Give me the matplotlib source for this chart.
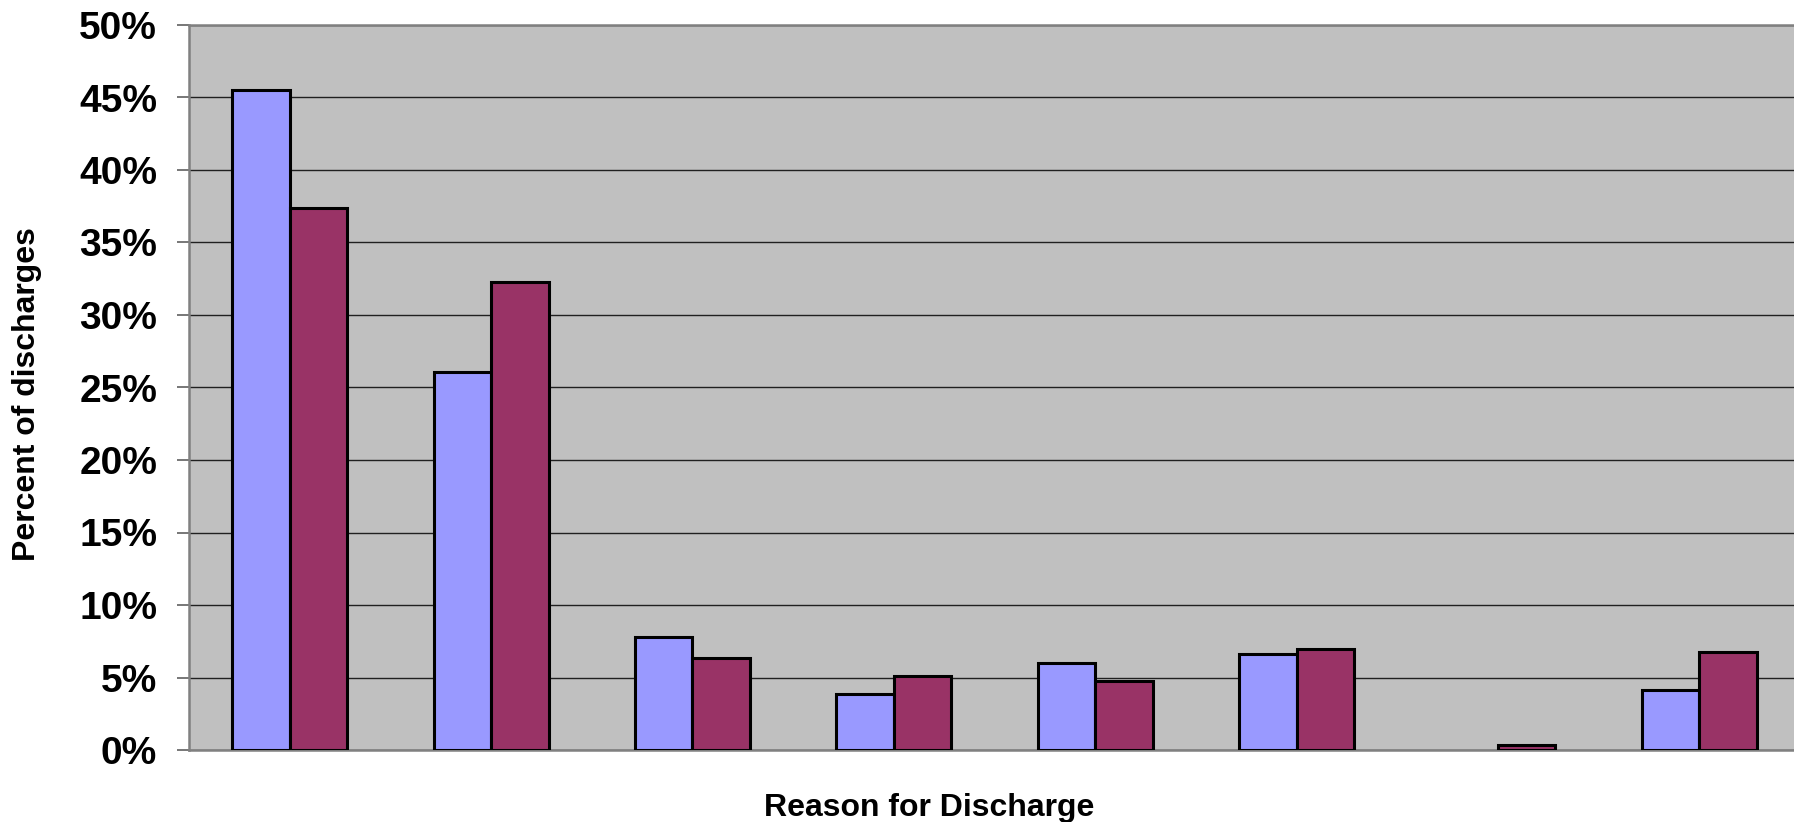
import numpy as np
import matplotlib
matplotlib.use('Agg')
import matplotlib.pyplot as plt
from matplotlib.ticker import PercentFormatter

# values, percent of discharges per reason (8 reasons, unlabeled)
series_a = [45.5, 26.05, 7.77, 3.86, 5.98, 6.6, 0.0, 4.14]
series_b = [37.4, 32.25, 6.34, 5.1, 4.76, 6.94, 0.34, 6.74]
y_ticks = [0, 5, 10, 15, 20, 25, 30, 35, 40, 45, 50]

plt.rcParams['font.family'] = ['Liberation Sans', 'DejaVu Sans']
plt.rcParams['font.weight'] = 'bold'

W, H = 1794, 822
fig = plt.figure(figsize=(W / 100, H / 100), dpi=100, facecolor='white')
ax = fig.add_axes([189 / W, 72 / H, 1611 / W, 725 / H])
ax.set_facecolor('#C0C0C0')

x = np.arange(len(series_a))
bw = 1 / 3.5
# zero values get no bar outline, as in the original
a = np.where(np.array(series_a) > 0, series_a, np.nan)
b = np.where(np.array(series_b) > 0, series_b, np.nan)
ax.bar(x - bw / 2, a, bw, color='#9999FF', edgecolor='black', linewidth=2.2, zorder=3)
ax.bar(x + bw / 2, b, bw, color='#993366', edgecolor='black', linewidth=2.2, zorder=3)

ax.set_xlim(-0.5, len(x) - 0.5)
ax.set_ylim(0, 50)
ax.set_yticks(y_ticks)
ax.yaxis.set_major_formatter(PercentFormatter(decimals=0))
ax.set_xticks([])
ax.grid(axis='y', color='#202020', linewidth=1.0, zorder=1)
ax.tick_params(axis='y', direction='out', length=9, width=1.2, color='#606060',
               labelsize=28, pad=14)
for lbl in ax.get_yticklabels():
    lbl.set_fontweight('bold')

for side in ['left', 'bottom', 'top']:
    ax.spines[side].set_color('#808080')
    ax.spines[side].set_linewidth(1.8)
ax.spines['right'].set_visible(False)

fig.text(929 / W, 1 - 808 / H, 'Reason for Discharge', ha='center', va='center',
         fontsize=23, fontweight='bold')
fig.text(27 / W, 1 - 394 / H, 'Percent of discharges', ha='center', va='center',
         rotation=90, fontsize=23, fontweight='bold')

fig.savefig('out.png', dpi=100)
